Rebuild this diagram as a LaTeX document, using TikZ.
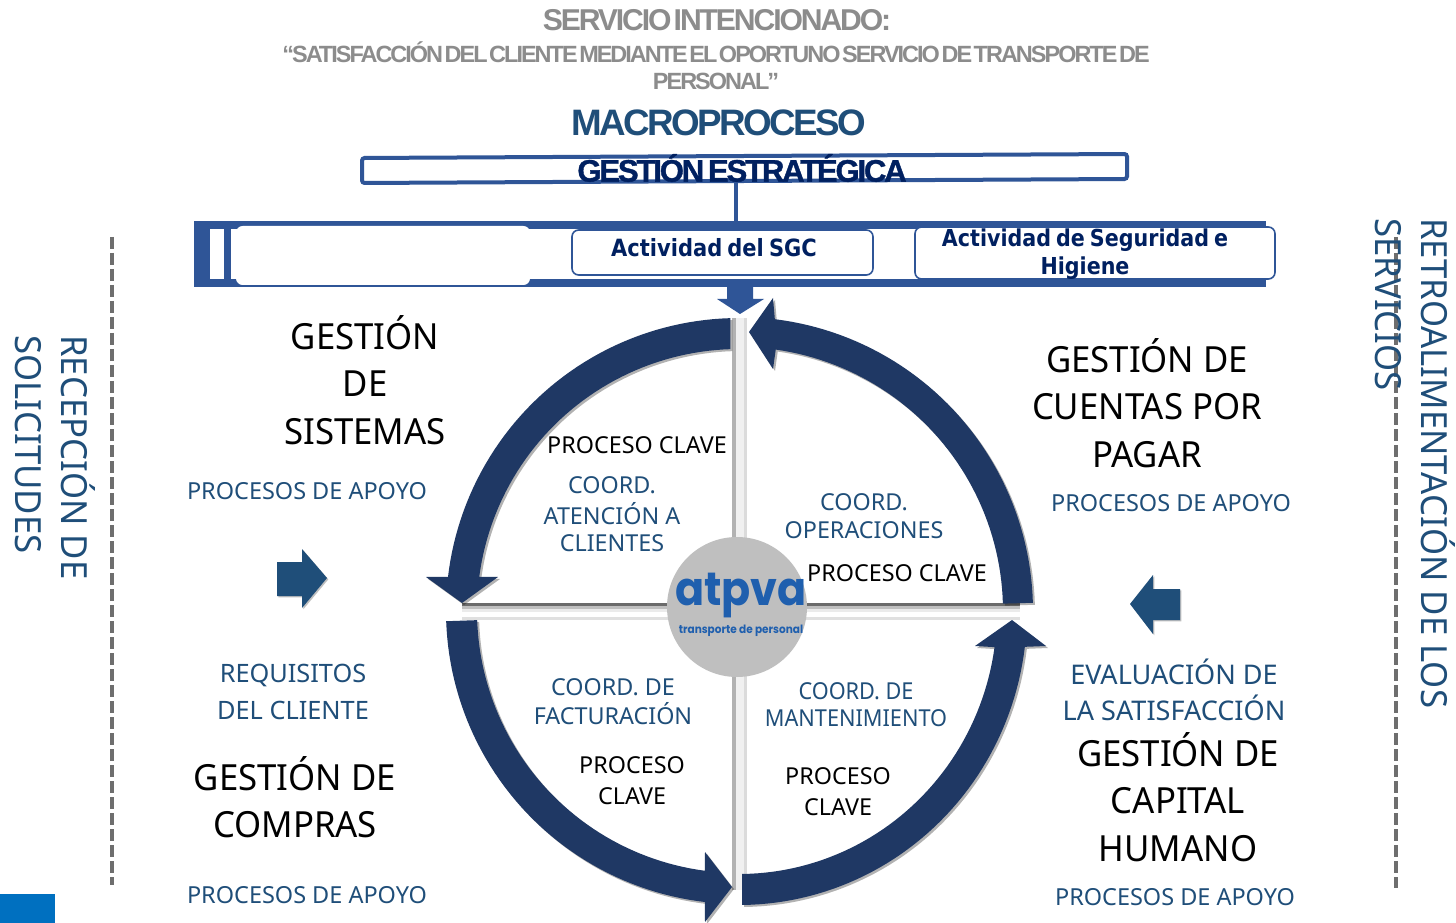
\documentclass[tikz,border=0pt]{standalone}
\usepackage{fontspec}
\usetikzlibrary{shadows}
\newfontfamily\lab{Noto Sans}
\newfontfamily\labc[FakeStretch=0.965]{Noto Sans}
\newfontfamily\labn[FakeStretch=0.93]{Noto Sans}
\newfontfamily\headf[LetterSpace=-7,WordSpace=0.35]{Liberation Sans Bold}
\newfontfamily\heade[LetterSpace=-7,WordSpace=0.6,FakeBold=1.2]{Liberation Sans Bold}
\newfontfamily\headg[LetterSpace=-8.5,WordSpace=0.35]{Liberation Sans Bold}
\newfontfamily\boldf[FakeStretch=0.885]{DejaVu Sans Bold}
\newfontfamily\boldg[FakeStretch=0.885,WordSpace=0.7]{DejaVu Sans Bold}
\newfontfamily\logof[FakeStretch=0.92]{Poppins Bold}
\newcommand{\fs}[2]{\fontsize{#1}{#2}\selectfont}
\definecolor{bluetext}{HTML}{1F4E79}
\definecolor{navy}{HTML}{1F3864}
\definecolor{barblue}{HTML}{2F5597}
\definecolor{deep}{HTML}{002060}
\definecolor{greyt}{HTML}{8C8C8C}
\definecolor{logob}{HTML}{1F5FAE}
\definecolor{dashg}{HTML}{6E6E6E}
\tikzset{
  big/.style={font=\labc\fs{27}{35.6},text=black,align=center,inner sep=0pt},
  mid/.style={font=\lab\fs{19}{27.5},text=bluetext,align=center,inner sep=0pt},
  sm/.style={font=\lab\fs{17.6}{23},text=bluetext,align=center,inner sep=0pt},
  blk/.style={font=\lab\fs{17.5}{23.3},text=black,align=center,inner sep=0pt},
  side/.style={font=\labc\fs{27}{34.5},text=bluetext,align=left,inner sep=0pt,rotate=-90,anchor=west},
  ring/.style={fill=navy,drop shadow={shadow xshift=1.5pt,shadow yshift=-1.5pt,opacity=.3,fill=black}},
  block/.style={fill=bluetext,drop shadow={shadow xshift=1pt,shadow yshift=-1pt,opacity=.25,fill=black}},
  dashline/.style={draw=dashg,line width=3.6pt,dash pattern=on 9pt off 3pt},
  act/.style={draw=barblue,fill=white,line width=1.2pt,rounded corners=5pt},
  actt/.style={font=\boldf\fs{17.8}{21},text=deep,align=center,inner sep=0pt}
}
\begin{document}
\begin{tikzpicture}[x=.75pt,y=-.75pt]
\useasboundingbox (0,0) rectangle (1456,923);
\fill[fill=white] (0,0) rectangle (1456,923);
\fill[fill={rgb,255:red,0;green,112;blue,192}] (0,894) rectangle (55,923);
% titles
\node[font=\headf\fs{22.6}{27},text=greyt,inner sep=0pt] (t1) at (717,20) {SERVICIO INTENCIONADO:};
\node[font=\headg\fs{17.6}{22},text=greyt,inner sep=0pt,align=center] (t2) at (716,52) {“SATISFACCIÓN DEL CLIENTE MEDIANTE EL OPORTUNO SERVICIO DE TRANSPORTE DE};
\node[font=\headg\fs{17.6}{22},text=greyt,inner sep=0pt] (t3) at (716,81) {PERSONAL”};
\node[font=\headf\fs{27.6}{32},text=bluetext,inner sep=0pt] (t4) at (719,123) {MACROPROCESO};
% strategic box
\draw[draw=barblue,line width=3pt,rounded corners=2pt] (362,158) -- (1127,154) -- (1127,179) -- (362,183) -- cycle;
\coordinate (c1) at (736,181);
\coordinate (c2) at (736,222);
\draw[draw=barblue,line width=3.2pt] (c1) -- (c2);
\node[font=\heade\fs{23.3}{27},text=deep,inner sep=0pt] (ge) at (742,168) {GESTIÓN ESTRATÉGICA};
% bar
\fill[fill=barblue] (194,221) rectangle (1266,287);
\fill[fill=white] (210,229) rectangle (1266,279);
\fill[fill=barblue] (224,221) rectangle (231,287);
\fill[fill=white,rounded corners=5pt] (236,226) rectangle (530,285);
\draw[act] (572,230) rectangle (873,275);
\draw[act] (915,227) rectangle (1275,279);
\node[actt] (a1) at (714,248) {Actividad del SGC};
\node[actt,font=\boldg\fs{17.5}{21}] (a2) at (1085,254) {Actividad de Seguridad e\\Higiene};
% cross
\fill[fill=black!8] (462,609) rectangle (1020,612);
\fill[fill=black!58] (462,603) rectangle (1020,606);
\fill[fill=black!25] (462,606) rectangle (1020,609);
\fill[fill=black!12] (462,617) rectangle (1020,620);
\fill[fill=black!30] (732,318) rectangle (736,890);
\fill[fill=black!14] (744,318) rectangle (747,890);
\fill[fill=black!6] (736,318) rectangle (744,890);
% down arrow
\fill[fill=barblue] (727,287) -- (753,287) -- (753,299) -- (764,299) -- (740,314) -- (717,299) -- (727,299) -- cycle;
% ring arrows
\path[ring] plot[domain=268.3:186.7,samples=50] ({739+293*cos(\x)},{611+293*sin(\x)}) -- (426,577) -- (462,603) -- (498,577) -- plot[domain=187.5:268.1,samples=50] ({739+262*cos(\x)},{611+262*sin(\x)}) -- cycle;
\path[ring] plot[domain=178:96.7,samples=50] ({739+293*cos(\x)},{611+293*sin(\x)}) -- (705,922) -- (732,887) -- (705,852) -- plot[domain=97.5:178,samples=50] ({739+262*cos(\x)},{611+262*sin(\x)}) -- cycle;
\path[ring] plot[domain=89.4:7,samples=50] ({739+288*cos(\x)},{611+294*sin(\x)}) -- (1046,646) -- (1012,620) -- (975,646) -- plot[domain=7.9:89.3,samples=50] ({739+258*cos(\x)},{611+263*sin(\x)}) -- cycle;
\path[ring] plot[domain=-1.6:-83,samples=50] ({739+294*cos(\x)},{611+294*sin(\x)}) -- (773,298) -- (749,332) -- (773,369) -- plot[domain=-82:-1.6,samples=50] ({739+264*cos(\x)},{611+264*sin(\x)}) -- cycle;
% side arrows
\path[block] (277,562) -- (302,562) -- (302,549) -- (327,578) -- (302,608) -- (302,596) -- (277,596) -- cycle;
\path[block] (1180,589) -- (1153,589) -- (1153,575) -- (1130,604) -- (1153,634) -- (1153,620) -- (1180,620) -- cycle;
% logo
\node[circle,fill=black!25,minimum size=105pt,inner sep=0pt] (logo) at (737,607) {};
\node[font=\logof\fs{35}{38},text=logob,inner sep=0pt] (l1) at (741,596) {atpva};
\node[font=\logof\fs{8.6}{9},text=logob,inner sep=0pt] (l2) at (741,631) {transporte de personal};
% dashed
\coordinate (d1) at (112,237); \coordinate (d2) at (112,885);
\coordinate (d3) at (1396,237); \coordinate (d4) at (1396,888);
\draw[dashline] (d1) -- (d2);
\draw[dashline] (d3) -- (d4);
% side text
\node[side] (s1) at (55,335) {RECEPCIÓN DE\\SOLICITUDES};
\node[side] (s2) at (1415,218) {RETROALIMENTACIÓN DE LOS\\SERVICIOS};
% big labels
\node[big] (b1) at (365,380) {GESTIÓN\\DE\\SISTEMAS};
\node[big] (b2) at (1147,403) {GESTIÓN DE\\CUENTAS POR\\PAGAR};
\node[big] (b3) at (295,797) {GESTIÓN DE\\COMPRAS};
\node[big] (b4) at (1178,797) {GESTIÓN DE\\CAPITAL\\HUMANO};
% blue labels
\node[sm] (p1) at (307,491) {PROCESOS DE APOYO};
\node[sm] (p2) at (1171,503) {PROCESOS DE APOYO};
\node[sm] (p3) at (307,895) {PROCESOS DE APOYO};
\node[sm] (p4) at (1175,897) {PROCESOS DE APOYO};
\node[mid] (r1) at (293,692) {REQUISITOS\\DEL CLIENTE};
\node[mid,font=\lab\fs{20.3}{27.5}] (r2) at (1174,690) {EVALUACIÓN DE\\LA SATISFACCIÓN};
\node[sm,font=\lab\fs{17.5}{21.5}] (c01) at (612,514) {COORD.\\[1.5pt]ATENCIÓN A\\[-1.5pt]CLIENTES};
\node[sm,font=\lab\fs{17.5}{20.5}] (c02) at (864,516) {COORD.\\OPERACIONES};
\node[sm,font=\lab\fs{17.5}{21.7}] (c03) at (613,702) {COORD. DE\\FACTURACIÓN};
\node[sm,font=\labn\fs{17.5}{20.3}] (c04) at (856,705) {COORD. DE\\MANTENIMIENTO};
% black
\node[blk] (k1) at (637,445) {PROCESO CLAVE};
\node[blk] (k2) at (897,573) {PROCESO CLAVE};
\node[blk] (k3) at (632,781) {PROCESO\\CLAVE};
\node[blk] (k4) at (838,792) {PROCESO\\CLAVE};
\end{tikzpicture}
\end{document}
